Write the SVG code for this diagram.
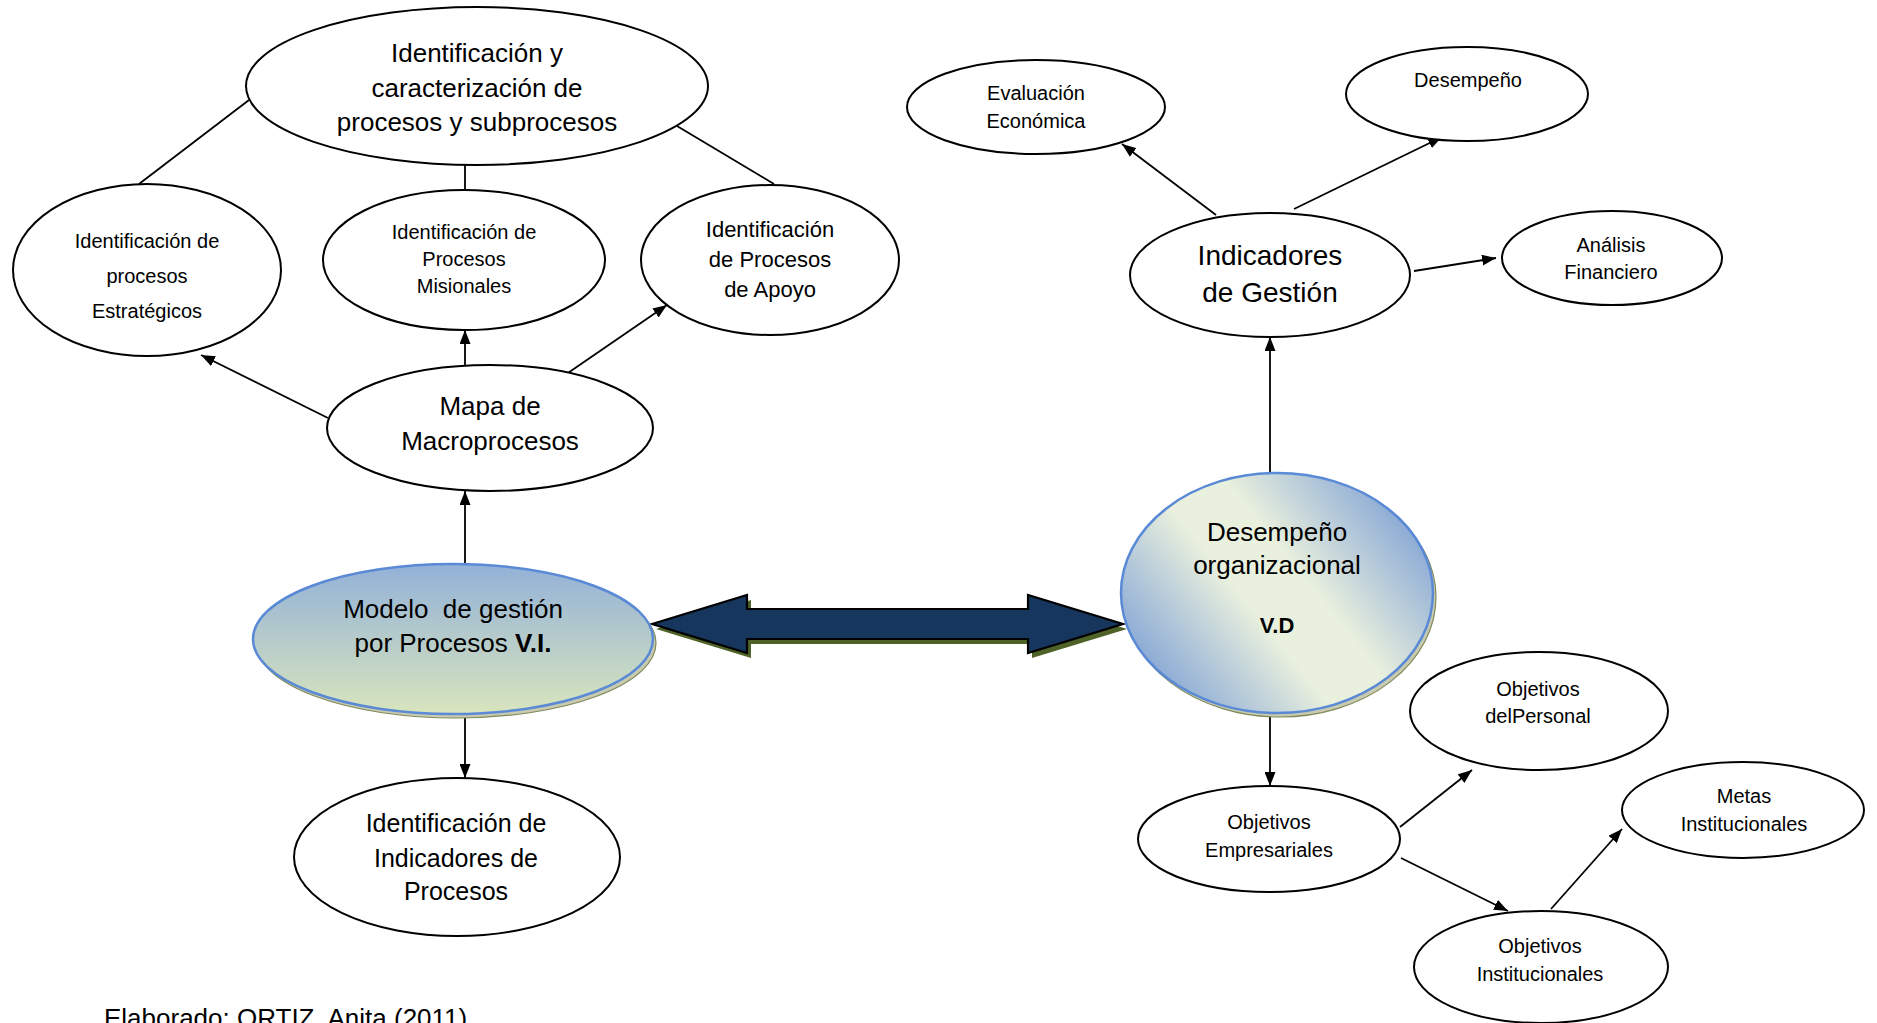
<svg xmlns="http://www.w3.org/2000/svg" width="1877" height="1023" viewBox="0 0 1877 1023">
  <style>
    .node { fill: #ffffff; stroke: #000000; stroke-width: 2; }
    .t { font-family: "Liberation Sans", Arial, sans-serif; fill: #000000; text-anchor: middle; }
    .s20 { font-size: 20px; }
    .s22 { font-size: 22px; }
    .s25 { font-size: 25px; }
    .s26 { font-size: 26px; }
    .s28 { font-size: 28px; }
    .link { stroke: #000000; stroke-width: 1.8; fill: none; }
    .arrow { marker-end: url(#head); }
    .shade { fill: #c9cbb0; stroke: #7f8a5a; stroke-width: 1.2; }
    .key { stroke: #5a8ad6; stroke-width: 2.5; }
    .b { font-weight: bold; }
  </style>
  <defs>
    <marker id="head" viewBox="0 0 14 11" refX="14" refY="5.5" markerWidth="14" markerHeight="11" markerUnits="userSpaceOnUse" orient="auto">
      <path d="M0,0 L14,5.5 L0,11 z" fill="#000000"/>
    </marker>
    <linearGradient id="gModelo" x1="0" y1="0" x2="0" y2="1">
      <stop offset="0" stop-color="#93b1d8"/>
      <stop offset="1" stop-color="#d8e5bd"/>
    </linearGradient>
    <linearGradient id="gDesemp" gradientUnits="userSpaceOnUse" x1="1420" y1="478" x2="1135" y2="708">
      <stop offset="0" stop-color="#6c93d3"/>
      <stop offset="0.42" stop-color="#e9f0dd"/>
      <stop offset="0.58" stop-color="#e9f0dd"/>
      <stop offset="1" stop-color="#6c93d3"/>
    </linearGradient>
  </defs>

  <!-- connectors -->
  <g id="connectors">
    <line class="link" x1="249" y1="100" x2="139" y2="184"/>
    <line class="link" x1="465" y1="165" x2="465" y2="191"/>
    <line class="link" x1="677" y1="126" x2="774" y2="184"/>
    <line class="link arrow" x1="328" y1="418" x2="201" y2="355"/>
    <line class="link arrow" x1="465" y1="366" x2="465" y2="330"/>
    <line class="link arrow" x1="565" y1="375" x2="667" y2="305"/>
    <line class="link arrow" x1="465" y1="564" x2="465" y2="491"/>
    <line class="link arrow" x1="465" y1="718" x2="465" y2="778"/>
    <line class="link arrow" x1="1270" y1="473" x2="1270" y2="337"/>
    <line class="link arrow" x1="1216" y1="215" x2="1122" y2="144"/>
    <line class="link arrow" x1="1294" y1="209" x2="1442" y2="137"/>
    <line class="link arrow" x1="1414" y1="271" x2="1496" y2="258"/>
    <line class="link arrow" x1="1270" y1="715" x2="1270" y2="786"/>
    <line class="link arrow" x1="1400" y1="827" x2="1472" y2="770"/>
    <line class="link arrow" x1="1401" y1="858" x2="1508" y2="911"/>
    <line class="link arrow" x1="1551" y1="909" x2="1622" y2="829"/>
    <!-- two-way block arrow between the two variables -->
    <g id="double-arrow">
      <polygon points="656,629 751,600 751,614 1032,614 1032,600 1127,629 1032,658 1032,644 751,644 751,658" fill="#4f6228"/>
      <polygon points="652,624 747,595 747,609 1028,609 1028,595 1123,624 1028,653 1028,639 747,639 747,653" fill="#17365d" stroke="#000000" stroke-width="2.2" stroke-linejoin="miter"/>
    </g>
  </g>

  <g id="caracterizacion">
    <ellipse class="node" cx="477" cy="86" rx="231" ry="79"/>
    <text class="t s26" x="477" y="62">Identificación y</text>
    <text class="t s26" x="477" y="97">caracterización de</text>
    <text class="t s26" x="477" y="131">procesos y subprocesos</text>
  </g>

  <g id="estrategicos">
    <ellipse class="node" cx="147" cy="270" rx="134" ry="86"/>
    <text class="t s20" x="147" y="248">Identificación de</text>
    <text class="t s20" x="147" y="283">procesos</text>
    <text class="t s20" x="147" y="318">Estratégicos</text>
  </g>

  <g id="misionales">
    <ellipse class="node" cx="464" cy="260" rx="141" ry="70"/>
    <text class="t s20" x="464" y="239">Identificación de</text>
    <text class="t s20" x="464" y="266">Procesos</text>
    <text class="t s20" x="464" y="293">Misionales</text>
  </g>

  <g id="apoyo">
    <ellipse class="node" cx="770" cy="260" rx="129" ry="75"/>
    <text class="t s22" x="770" y="237">Identificación</text>
    <text class="t s22" x="770" y="267">de Procesos</text>
    <text class="t s22" x="770" y="297">de Apoyo</text>
  </g>

  <g id="mapa">
    <ellipse class="node" cx="490" cy="428" rx="163" ry="63"/>
    <text class="t s26" x="490" y="415">Mapa de</text>
    <text class="t s26" x="490" y="450">Macroprocesos</text>
  </g>

  <g id="modelo">
    <ellipse class="shade" cx="456" cy="643" rx="200" ry="75"/>
    <ellipse class="key" cx="453" cy="639" rx="200" ry="75" fill="url(#gModelo)"/>
    <text class="t s26" x="453" y="618" xml:space="preserve">Modelo  de gestión</text>
    <text class="t s26" x="453" y="652">por Procesos <tspan class="b">V.I.</tspan></text>
  </g>

  <g id="indicadores-procesos">
    <ellipse class="node" cx="457" cy="857" rx="163" ry="79"/>
    <text class="t s25" x="456" y="832">Identificación de</text>
    <text class="t s25" x="456" y="867">Indicadores de</text>
    <text class="t s25" x="456" y="900">Procesos</text>
  </g>

  <g id="evaluacion">
    <ellipse class="node" cx="1036" cy="107" rx="129" ry="47"/>
    <text class="t s20" x="1036" y="100">Evaluación</text>
    <text class="t s20" x="1036" y="128">Económica</text>
  </g>

  <g id="desempeno">
    <ellipse class="node" cx="1467" cy="94" rx="121" ry="47"/>
    <text class="t s20" x="1468" y="87">Desempeño</text>
  </g>

  <g id="indicadores-gestion">
    <ellipse class="node" cx="1270" cy="275" rx="140" ry="62"/>
    <text class="t s28" x="1270" y="265">Indicadores</text>
    <text class="t s28" x="1270" y="302">de Gestión</text>
  </g>

  <g id="analisis">
    <ellipse class="node" cx="1612" cy="258" rx="110" ry="47"/>
    <text class="t s20" x="1611" y="252">Análisis</text>
    <text class="t s20" x="1611" y="279">Financiero</text>
  </g>

  <g id="desempeno-organizacional">
    <ellipse class="shade" cx="1280" cy="597" rx="156" ry="120"/>
    <ellipse class="key" cx="1277" cy="593" rx="156" ry="120" fill="url(#gDesemp)"/>
    <text class="t s26" x="1277" y="541">Desempeño</text>
    <text class="t s26" x="1277" y="574">organizacional</text>
    <text class="t s22 b" x="1277" y="633">V.D</text>
  </g>

  <g id="objetivos-empresariales">
    <ellipse class="node" cx="1269" cy="839" rx="131" ry="53"/>
    <text class="t s20" x="1269" y="829">Objetivos</text>
    <text class="t s20" x="1269" y="857">Empresariales</text>
  </g>

  <g id="objetivos-personal">
    <ellipse class="node" cx="1539" cy="711" rx="129" ry="59"/>
    <text class="t s20" x="1538" y="696">Objetivos</text>
    <text class="t s20" x="1538" y="723">delPersonal</text>
  </g>

  <g id="metas">
    <ellipse class="node" cx="1743" cy="810" rx="121" ry="48"/>
    <text class="t s20" x="1744" y="803">Metas</text>
    <text class="t s20" x="1744" y="831">Institucionales</text>
  </g>

  <g id="objetivos-institucionales">
    <ellipse class="node" cx="1541" cy="967" rx="127" ry="56"/>
    <text class="t s20" x="1540" y="953">Objetivos</text>
    <text class="t s20" x="1540" y="981">Institucionales</text>
  </g>

  <text class="t s26" x="104" y="1027" style="text-anchor:start">Elaborado: ORTIZ, Anita (2011)</text>
</svg>
